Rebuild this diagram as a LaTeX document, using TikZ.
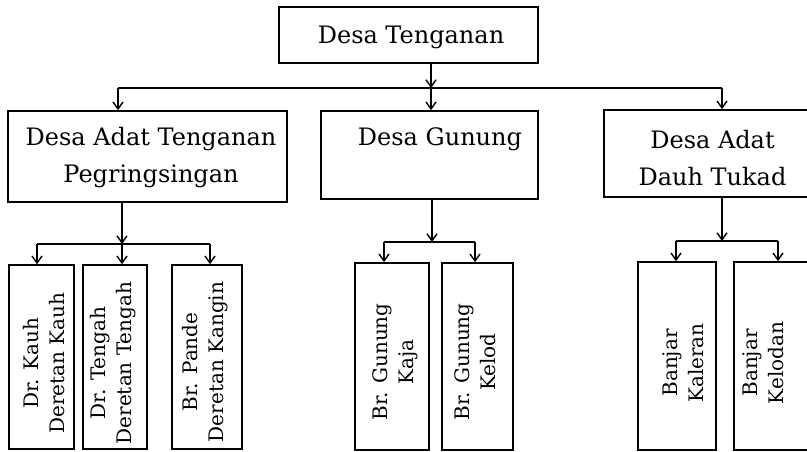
\documentclass[tikz,border=0pt]{standalone}
\usepackage{fontspec}
\setmainfont{DejaVu Serif}
\usetikzlibrary{arrows.meta}
\begin{document}
\begin{tikzpicture}[x=1pt,y=-1pt,
  box/.style={draw, line width=1.6pt, inner sep=0pt},
  lbl/.style={inner sep=0pt, align=center, font=\fontsize{24}{37}\selectfont},
  rlbl/.style={inner sep=0pt, align=center, rotate=90, font=\fontsize{20}{26}\selectfont},
  wire/.style={line width=1.6pt},
  arr/.style={line width=1.6pt, -{Straight Barb[length=7pt,width=10pt,line width=1.4pt]}}]
\useasboundingbox (0,0) rectangle (807,452);
\clip (0,0) rectangle (807,452);
% level 0
\node[box, minimum width=259pt, minimum height=56pt] (top) at (408.5,35) {};
\node[lbl] (ttop) at (411,37) {Desa Tenganan};
% level 1
\node[box, minimum width=279pt, minimum height=91pt] (A) at (147.5,156.5) {};
\node[lbl] (tA) at (151,158) {Desa Adat Tenganan\\Pegringsingan};
\node[box, minimum width=217pt, minimum height=88pt] (B) at (429.5,155) {};
\node[lbl] (tB) at (440,139) {Desa Gunung};
\node[box, minimum width=217pt, minimum height=87pt] (C) at (712.5,153.5) {};
\node[lbl] (tC) at (712.5,158) {Desa Adat\\Dauh Tukad};
% level 2
\node[box, minimum width=65pt, minimum height=184pt] (a) at (41.5,357) {};
\node[rlbl] (ta) at (44.5,363) {Dr. Kauh\\Deretan Kauh};
\node[box, minimum width=64pt, minimum height=184pt] (b) at (115,357) {};
\node[rlbl] (tb) at (113.5,363) {Dr. Tengah\\Deretan Tengah};
\node[box, minimum width=70pt, minimum height=184pt] (c) at (207,357) {};
\node[rlbl] (tc) at (205,362) {Br. Pande\\Deretan Kangin};
\node[box, minimum width=74pt, minimum height=187pt] (d) at (392,356.5) {};
\node[rlbl] (td) at (395.5,362) {Br. Gunung\\Kaja};
\node[box, minimum width=71pt, minimum height=187pt] (e) at (477.5,356.5) {};
\node[rlbl] (te) at (475,362) {Br. Gunung\\Kelod};
\node[box, minimum width=78pt, minimum height=188pt] (f) at (677,356) {};
\node[rlbl] (tf) at (683.5,363) {Banjar\\Kaleran};
\node[box, minimum width=78pt, minimum height=188pt] (g) at (773,356) {};
\node[rlbl] (tg) at (763.5,363) {Banjar\\Kelodan};
% junctions
\coordinate (j0) at (431,88);
\coordinate (j0L) at (118,88);
\coordinate (j0R) at (722,88);
\coordinate (jA) at (122,244);
\coordinate (jAL) at (37,244);
\coordinate (jAR) at (210,244);
\coordinate (jB) at (432,242);
\coordinate (jBL) at (384,242);
\coordinate (jBR) at (475,242);
\coordinate (jC) at (722,241);
\coordinate (jCL) at (676,241);
\coordinate (jCR) at (778,241);
% connectors level 0 -> 1
\draw[arr] (top.south -| j0) -- (j0);
\draw[wire] (j0L) -- (j0R);
\draw[arr] (j0L) -- (j0L |- A.north);
\draw[arr] (j0) -- (j0 |- B.north);
\draw[arr] (j0R) -- (j0R |- C.north);
% A -> a,b,c
\draw[arr] (A.south -| jA) -- (jA);
\draw[wire] (jAL) -- (jAR);
\draw[arr] (jAL) -- (jAL |- a.north);
\draw[arr] (jA) -- (jA |- b.north);
\draw[arr] (jAR) -- (jAR |- c.north);
% B -> d,e
\draw[arr] (B.south -| jB) -- (jB);
\draw[wire] (jBL) -- (jBR);
\draw[arr] (jBL) -- (jBL |- d.north);
\draw[arr] (jBR) -- (jBR |- e.north);
% C -> f,g
\draw[arr] (C.south -| jC) -- (jC);
\draw[wire] (jCL) -- (jCR);
\draw[arr] (jCL) -- (jCL |- f.north);
\draw[arr] (jCR) -- (jCR |- g.north);
\end{tikzpicture}
\end{document}
